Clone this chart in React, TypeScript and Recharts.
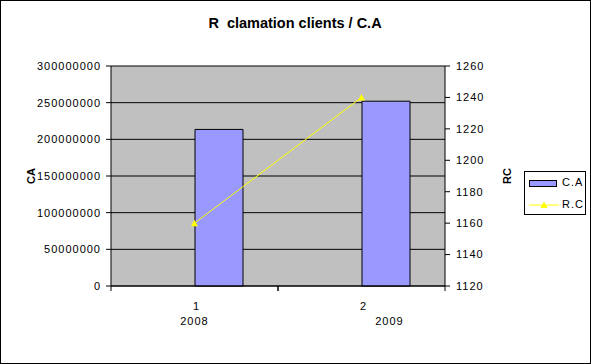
import { ComposedChart, Bar, Line, XAxis, YAxis, CartesianGrid } from 'recharts'

/* ── Data ── */
const years = ['2008', '2009']
const indexes = ['1', '2']
const caValues = [213500000, 252000000]
const rcValues = [1160, 1240]
const caTicks = [0, 50000000, 100000000, 150000000, 200000000, 250000000, 300000000]
const rcTicks = [1120, 1140, 1160, 1180, 1200, 1220, 1240, 1260]

const data = years.map((year, i) => ({
  year,
  idx: indexes[i],
  ca: caValues[i],
  rc: rcValues[i],
  pad: null,
}))

const FONT = '"Liberation Sans", Arial, sans-serif'
const yearShift = [0, 28]

/* ── Custom bits ── */
const XTick = (props: any) => {
  const { x, y, payload, index } = props
  const half = payload.offset ?? 83.5
  return (
    <g>
      <line x1={x - half} x2={x - half} y1={y - 5} y2={y} stroke="#000" />
      <line x1={x + half} x2={x + half} y1={y - 5} y2={y} stroke="#000" />
      <text x={x + 2} y={y + 19} textAnchor="middle" fontSize={11} fontFamily={FONT} letterSpacing={1} fill="#000">
        {indexes[index]}
      </text>
      <text x={x + yearShift[index]} y={y + 34} textAnchor="middle" fontSize={11} fontFamily={FONT} letterSpacing={1} fill="#000">
        {payload.value}
      </text>
    </g>
  )
}

const Triangle = (props: any) => {
  const { cx, cy } = props
  if (cx == null || cy == null) return null
  return <path d={`M${cx},${cy - 3.5} L${cx + 3.5},${cy + 3} L${cx - 3.5},${cy + 3} Z`} fill="#ffff00" />
}

const axisTitle = (text: string, dx: number) => (p: any) => {
  const vb = p.viewBox
  const cx = vb.x + dx
  const cy = vb.y + vb.height / 2
  return (
    <text
      x={cx}
      y={cy}
      transform={`rotate(-90 ${cx} ${cy})`}
      textAnchor="middle"
      dominantBaseline="central"
      fontSize={11}
      fontWeight="bold"
      fontFamily={FONT}
      fill="#000"
    >
      {text}
    </text>
  )
}

const tickStyle = { fill: '#000', fontSize: 11, fontFamily: FONT, letterSpacing: 1 }

export default function App() {
  return (
    <div style={{ position: 'absolute', left: 0, top: 0, width: 591, height: 364, background: '#fff' }}>
      <ComposedChart
        width={591}
        height={364}
        data={data}
        margin={{ top: 66, right: 0, bottom: 0, left: 0 }}
        barGap={0}
        barSize={48}
      >
        <text
          x={295}
          y={28}
          textAnchor="middle"
          fontSize={14.5}
          fontWeight="bold"
          fontFamily={FONT}
          fill="#000"
          style={{ whiteSpace: 'pre' }}
        >
          {'R  clamation clients / C.A'}
        </text>
        <CartesianGrid yAxisId="ca" vertical={false} fill="#c0c0c0" fillOpacity={1} stroke="#000" horizontalValues={caTicks} />
        <XAxis
          dataKey="year"
          height={78}
          tickLine={false}
          tickSize={5}
          tickMargin={0}
          axisLine={{ stroke: '#000' }}
          tick={<XTick />}
          interval={0}
        />
        <YAxis
          yAxisId="ca"
          width={111}
          domain={[0, 300000000]}
          ticks={caTicks}
          interval={0}
          tickSize={5}
          tickMargin={5}
          tick={tickStyle}
          tickLine={{ stroke: '#000' }}
          axisLine={{ stroke: '#000' }}
          label={axisTitle('CA', 31)}
        />
        <YAxis
          yAxisId="rc"
          orientation="right"
          width={146}
          domain={[1120, 1260]}
          ticks={rcTicks}
          interval={0}
          tickSize={5}
          tickMargin={6}
          tick={tickStyle}
          tickLine={{ stroke: '#000' }}
          axisLine={{ stroke: '#000' }}
          label={axisTitle('RC', 62)}
        />
        <Bar yAxisId="ca" dataKey="pad" fill="none" legendType="none" isAnimationActive={false} />
        <Bar yAxisId="ca" dataKey="ca" name="C.A" fill="#9999ff" stroke="#000" strokeWidth={1} isAnimationActive={false} />
        <Line
          yAxisId="rc"
          dataKey="rc"
          name="R.C"
          stroke="#ffff00"
          strokeWidth={1}
          dot={<Triangle />}
          activeDot={false}
          isAnimationActive={false}
        />
      </ComposedChart>

      {/* Legend */}
      <div
        style={{
          position: 'absolute',
          left: 524,
          top: 171,
          width: 62,
          height: 44,
          border: '1px solid #000',
          boxSizing: 'border-box',
          fontFamily: FONT,
          fontSize: 11,
          letterSpacing: 1,
          color: '#000',
        }}
      >
        <div style={{ position: 'absolute', left: 4, top: 8, width: 28, height: 7, background: '#9999ff', border: '1px solid #000', boxSizing: 'border-box' }} />
        <div style={{ position: 'absolute', left: 37, top: 4, lineHeight: '13px' }}>C.A</div>
        <svg style={{ position: 'absolute', left: 4, top: 27 }} width={30} height={10}>
          <line x1={0} x2={30} y1={6} y2={6} stroke="#ffff00" />
          <path d="M15,2.5 L18.5,9 L11.5,9 Z" fill="#ffff00" />
        </svg>
        <div style={{ position: 'absolute', left: 37, top: 26, lineHeight: '13px' }}>R.C</div>
      </div>

      {/* Outer frame */}
      <div style={{ position: 'absolute', inset: 0, border: '1px solid #000', pointerEvents: 'none' }} />
    </div>
  )
}
